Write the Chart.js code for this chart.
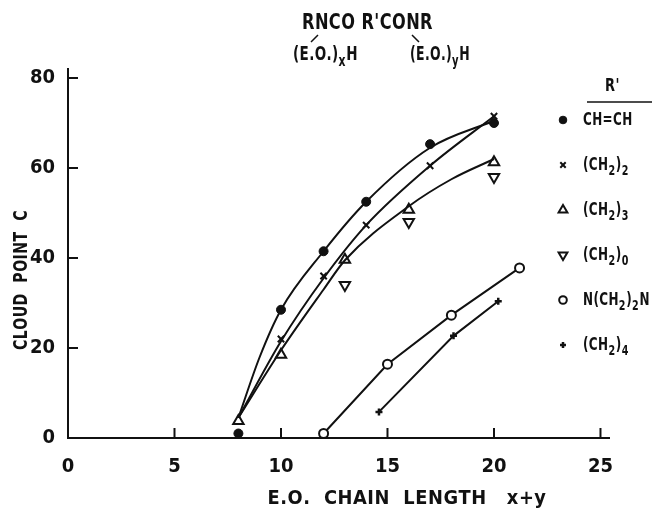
<!DOCTYPE html>
<html>
<head>
<meta charset="utf-8">
<script src="https://cdn.jsdelivr.net/npm/chart.js@4.4.1/dist/chart.umd.min.js"></script>
<style>
    html, body { margin: 0; padding: 0; background: #fff; }
</style>
</head>
<body>
<canvas id="cloudChart" width="653" height="512"></canvas>
<script>
// Tick labels
const xTicks = [0, 5, 10, 15, 20, 25];
const yTicks = [0, 20, 40, 60, 80];

// Legend labels (R' groups), "_" marks a subscript character
const seriesLabels = ['CH=CH', '(CH_2)_2', '(CH_2)_3', '(CH_2)_0', 'N(CH_2)_2N', '(CH_2)_4'];

// Measured points: E.O. chain length (x+y) vs cloud point C
const eneX = [8, 10, 12, 14, 17, 20];
const eneY = [1, 28.5, 41.5, 52.5, 65.3, 70];
const c2X = [10, 12, 14, 17, 20];
const c2Y = [22, 36, 47.3, 60.5, 71.5];
const c3X = [8, 10, 13, 16, 20];
const c3Y = [3.8, 18.5, 39.6, 50.7, 61.3];
const c0X = [13, 16, 20];
const c0Y = [34, 48, 58];
const nX = [12, 15, 18, 21.2];
const nY = [1, 16.4, 27.3, 37.8];
const c4X = [14.6, 18.1, 20.2];
const c4Y = [5.8, 22.7, 30.4];

// Hand-drawn fitted curves
const eneCurveX = [8, 9, 10, 12, 14, 17, 20];
const eneCurveY = [4.5, 18, 28.5, 41.5, 52.5, 64.5, 70.5];
const c2CurveX = [8, 10, 12, 14, 17, 20];
const c2CurveY = [4.5, 21.5, 35.5, 47.3, 60.5, 71.5];
const c3CurveX = [8, 10, 12, 13, 16, 18, 20];
const c3CurveY = [4.5, 19.5, 33, 39.5, 51.5, 57.5, 62];

const FONT = "'DejaVu Sans Condensed', 'Liberation Sans Narrow', 'DejaVu Sans', sans-serif";
const INK = '#111';

function pts(xs, ys) {
    return xs.map((x, i) => ({ x: x, y: ys[i] }));
}

function curve(xs, ys) {
    return {
        data: pts(xs, ys),
        showLine: true,
        borderColor: INK,
        borderWidth: 2,
        pointRadius: 0,
        cubicInterpolationMode: 'monotone',
        fill: false
    };
}

// marker style per series, same order as seriesLabels
const markerStyles = [
    { pointStyle: 'circle', radius: 4.5, rotation: 0, fill: INK, borderWidth: 1 },
    { pointStyle: 'crossRot', radius: 4.5, rotation: 0, fill: INK, borderWidth: 2 },
    { pointStyle: 'triangle', radius: 6, rotation: 0, fill: '#fff', borderWidth: 2 },
    { pointStyle: 'triangle', radius: 6, rotation: 180, fill: '#fff', borderWidth: 2 },
    { pointStyle: 'circle', radius: 4.5, rotation: 0, fill: '#fff', borderWidth: 2 },
    { pointStyle: 'cross', radius: 3.5, rotation: 0, fill: INK, borderWidth: 2.5 }
];

function markers(xs, ys, idx, withLine) {
    const m = markerStyles[idx];
    return {
        label: seriesLabels[idx],
        data: pts(xs, ys),
        showLine: !!withLine,
        borderColor: INK,
        backgroundColor: m.fill,
        borderWidth: 2,
        pointStyle: m.pointStyle,
        pointRotation: m.rotation,
        pointRadius: m.radius,
        pointBorderWidth: m.borderWidth,
        pointBackgroundColor: m.fill,
        pointBorderColor: INK
    };
}

// split "_c" into subscript parts
function richParts(str) {
    const parts = [];
    for (let i = 0; i < str.length; i++) {
        if (str[i] === '_' && i + 1 < str.length) {
            parts.push({ ch: str[++i], sub: true });
        } else {
            parts.push({ ch: str[i], sub: false });
        }
    }
    return parts;
}

function richWidth(ctx, parts, size) {
    let w = 0;
    parts.forEach(p => {
        ctx.font = 'bold ' + (p.sub ? size * 0.8 : size) + 'px ' + FONT;
        w += ctx.measureText(p.ch).width + (p.sub ? 1 : 0.5);
    });
    return w;
}

// draw text with subscripts; opts.width squeezes to a set width, opts.sx to a factor
function drawRich(ctx, str, x, y, size, opts) {
    opts = opts || {};
    const parts = richParts(str);
    const natural = richWidth(ctx, parts, size);
    const sx = opts.width ? opts.width / natural : (opts.sx || 1);
    const total = natural * sx;
    let start = x;
    if (opts.align === 'center') start = x - total / 2;
    ctx.save();
    ctx.translate(start, y);
    ctx.scale(sx, 1);
    ctx.textAlign = 'left';
    ctx.textBaseline = 'middle';
    let cx = 0;
    parts.forEach(p => {
        const s = p.sub ? size * 0.8 : size;
        ctx.font = 'bold ' + s + 'px ' + FONT;
        ctx.fillText(p.ch, cx, p.sub ? size * 0.35 : 0);
        cx += ctx.measureText(p.ch).width + (p.sub ? 1 : 0.5);
    });
    ctx.restore();
}

const decorPlugin = {
    id: 'decor',
    afterDraw(chart) {
        const ctx = chart.ctx;
        const xs = chart.scales.x;
        const ys = chart.scales.y;
        const area = chart.chartArea;
        ctx.save();
        ctx.strokeStyle = INK;
        ctx.fillStyle = INK;
        ctx.lineWidth = 2;

        // inward tick marks
        xTicks.forEach(v => {
            const px = xs.getPixelForValue(v);
            ctx.beginPath();
            ctx.moveTo(px, area.bottom);
            ctx.lineTo(px, area.bottom - 10);
            ctx.stroke();
        });
        yTicks.forEach(v => {
            const py = ys.getPixelForValue(v);
            ctx.beginPath();
            ctx.moveTo(area.left, py);
            ctx.lineTo(area.left + 10, py);
            ctx.stroke();
        });

        // structure heading
        drawRich(ctx, "RNCO R'CONR", 302, 24, 21, { width: 131 });
        drawRich(ctx, '(E.O.)_xH', 293, 55, 20, { width: 65 });
        drawRich(ctx, '(E.O.)_yH', 410, 55, 20, { width: 60 });
        ctx.lineWidth = 1.5;
        ctx.beginPath();
        ctx.moveTo(311, 42);
        ctx.lineTo(318, 35);
        ctx.moveTo(412, 35);
        ctx.lineTo(419, 42);
        ctx.stroke();

        // axis titles
        drawRich(ctx, 'E.O.  CHAIN  LENGTH   x+y', 407, 499, 19, { width: 279, align: 'center' });
        ctx.save();
        ctx.translate(22, 280);
        ctx.rotate(-Math.PI / 2);
        drawRich(ctx, 'CLOUD  POINT  C', 0, 0, 19, { width: 140, align: 'center' });
        ctx.restore();

        // legend
        drawRich(ctx, "R'", 605, 86, 18, { sx: 0.8 });
        ctx.lineWidth = 1.5;
        ctx.beginPath();
        ctx.moveTo(587, 102);
        ctx.lineTo(652, 102);
        ctx.stroke();
        seriesLabels.forEach((lab, i) => {
            const ly = 120 + i * 45;
            const m = markerStyles[i];
            ctx.fillStyle = m.fill;
            ctx.strokeStyle = INK;
            ctx.lineWidth = m.borderWidth;
            Chart.helpers.drawPoint(ctx, {
                pointStyle: m.pointStyle,
                rotation: m.rotation,
                radius: m.radius * 0.85,
                borderWidth: m.borderWidth
            }, 563, ly);
            ctx.fillStyle = INK;
            drawRich(ctx, lab, 583, ly, 18, { sx: 0.74 });
        });
        ctx.restore();
    }
};

const tickFont = { family: FONT, size: 20, weight: 'bold' };

new Chart(document.getElementById('cloudChart').getContext('2d'), {
    type: 'scatter',
    data: {
        datasets: [
            curve(eneCurveX, eneCurveY),
            curve(c2CurveX, c2CurveY),
            curve(c3CurveX, c3CurveY),
            markers(eneX, eneY, 0),
            markers(c2X, c2Y, 1),
            markers(c3X, c3Y, 2),
            markers(c0X, c0Y, 3),
            markers(nX, nY, 4, true),
            markers(c4X, c4Y, 5, true)
        ]
    },
    options: {
        responsive: false,
        animation: false,
        layout: {
            padding: { top: 69, right: 44, left: 0, bottom: 0 }
        },
        plugins: {
            legend: { display: false },
            tooltip: { enabled: false }
        },
        scales: {
            x: {
                type: 'linear',
                min: 0,
                max: 25.4,
                afterBuildTicks: s => { s.ticks = xTicks.map(v => ({ value: v })); },
                afterFit: s => { s.height = 74; },
                grid: { display: false },
                border: { display: true, color: INK, width: 2 },
                ticks: { color: INK, font: tickFont, padding: 9, maxRotation: 0 }
            },
            y: {
                type: 'linear',
                min: 0,
                max: 82,
                afterBuildTicks: s => { s.ticks = yTicks.map(v => ({ value: v })); },
                afterFit: s => { s.width = 68; },
                grid: { display: false },
                border: { display: true, color: INK, width: 2 },
                ticks: { color: INK, font: tickFont, padding: 5 }
            }
        }
    },
    plugins: [decorPlugin]
});
</script>
</body>
</html>
